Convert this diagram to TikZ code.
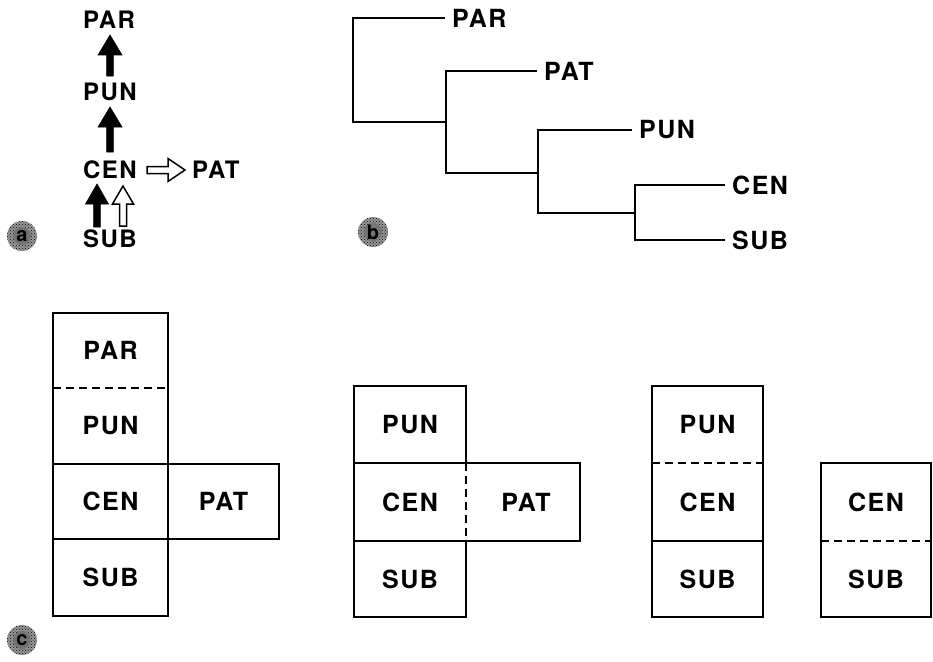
\documentclass[tikz,border=0pt]{standalone}
\usepackage{fontspec}
\setmainfont{TeX Gyre Heros}[LetterSpace=6]
\usetikzlibrary{calc,patterns}
\newcommand{\blkuparrow}[5]{% style, bottom, tip, head length, head half width
  \draw[#1] ($(#2)+(-3.3,0)$) -- ($(#3)+(-3.3,#4)$) -- ($(#3)+(-#5,#4)$) -- (#3)
    -- ($(#3)+(#5,#4)$) -- ($(#3)+(3.3,#4)$) -- ($(#2)+(3.3,0)$) -- cycle;}
\newcommand{\tagdisc}[3]{% position, name, letter
  \fill[black!40] (#1) circle (15);
  \fill[pattern=crosshatch dots,pattern color=black] (#1) circle (15);
  \fill[black!55] (#1) circle (9);
  \node[font=\fontsize{20}{20}\selectfont\bfseries,inner sep=0pt] (#2) at (#1) {#3};}
\begin{document}
\begin{tikzpicture}[x=1pt,y=-1pt,
  lbl/.style={inner sep=0pt,font=\fontsize{25}{25}\selectfont\bfseries},
  lbla/.style={inner sep=0pt,font=\fontsize{24}{24}\selectfont\bfseries},
  tree/.style={line width=2.6pt},
  box/.style={line width=1.7pt},
  dsh/.style={line width=1.6pt,dash pattern=on 8pt off 5pt},
  solidarr/.style={fill=black,draw=black,line width=0.6pt,line join=miter},
  hollowarr/.style={fill=white,draw=black,line width=1.5pt,line join=miter}]
\useasboundingbox (0,0) rectangle (933,661);

% ---------- panel a ----------
\node[lbla] (apar) at (109,20) {PAR};
\node[lbla] (apun) at (110,92) {PUN};
\node[lbla] (acen) at (110,170) {CEN};
\node[lbla] (asub) at (110,239) {SUB};
\node[lbla,anchor=west] (apat) at (192,170) {PAT};

\coordinate (a1b) at (110,76);  \coordinate (a1t) at (110,35);
\coordinate (a2b) at (110,152); \coordinate (a2t) at (110,107);
\coordinate (a3b) at (97,227);  \coordinate (a3t) at (97,184);
\coordinate (a4b) at (123,226); \coordinate (a4t) at (123,186);
\blkuparrow{solidarr}{a1b}{a1t}{20}{12}
\blkuparrow{solidarr}{a2b}{a2t}{20}{12}
\blkuparrow{solidarr}{a3b}{a3t}{20}{11.5}
\draw[hollowarr] ($(a4b)+(-3.5,0)$) -- ($(a4t)+(-3.5,18)$) -- ($(a4t)+(-10.5,18)$) -- (a4t)
  -- ($(a4t)+(10.5,18)$) -- ($(a4t)+(3.5,18)$) -- ($(a4b)+(3.5,0)$) -- cycle;
\coordinate (hs) at (147,170); \coordinate (he) at (185,170);
\draw[hollowarr] ($(hs)+(0,-3.5)$) -- ($(he)+(-17,-3.5)$) -- ($(he)+(-17,-11.5)$) -- (he)
  -- ($(he)+(-17,11.5)$) -- ($(he)+(-17,3.5)$) -- ($(hs)+(0,3.5)$) -- cycle;

\tagdisc{22,236}{taga}{a}

% ---------- panel b ----------
\node[lbl,anchor=west,inner xsep=7pt] (bpar) at (445,18) {PAR};
\node[lbl,anchor=west,inner xsep=7pt] (bpat) at (537,71) {PAT};
\node[lbl,anchor=west,inner xsep=7pt] (bpun) at (632,130) {PUN};
\node[lbl,anchor=west,inner xsep=7pt] (bcen) at (725,185) {CEN};
\node[lbl,anchor=west,inner xsep=7pt] (bsub) at (725,240) {SUB};
\coordinate (j1) at (353,122); \coordinate (k1) at (446,122);
\coordinate (j2) at (446,173); \coordinate (k2) at (538,173);
\coordinate (j3) at (538,213); \coordinate (k3) at (635,213);
\coordinate (j4) at (635,240);
\draw[tree] (bpar.west) -| (j1) -- (k1);
\draw[tree] (bpat.west) -| (j2) -- (k2);
\draw[tree] (bpun.west) -| (j3) -- (k3);
\draw[tree] (bcen.west) -| (j4) -- (bsub.west);

\tagdisc{373,232}{tagb}{b}

% ---------- panel c ----------
% group 1
\draw[box] (53,313) rectangle (168,616);
\draw[box] (53,464) -| (279,539) -- (53,539);
\draw[dsh] (53,388) -- (168,388);
\node[lbl] (c1par) at (110.5,350.5) {PAR};
\node[lbl] (c1pun) at (110.5,426) {PUN};
\node[lbl] (c1cen) at (110.5,501.5) {CEN};
\node[lbl] (c1pat) at (223.5,501.5) {PAT};
\node[lbl] (c1sub) at (110.5,577.5) {SUB};

% group 2
\draw[box] (466,463) -- (466,386) -- (354,386) -- (354,617) -- (466,617) -- (466,541);
\draw[box] (354,463) -| (580,541) -- (354,541);
\draw[dsh] (466,463) -- (466,541);
\node[lbl] (c2pun) at (410,424.5) {PUN};
\node[lbl] (c2cen) at (410,502) {CEN};
\node[lbl] (c2pat) at (526,502) {PAT};
\node[lbl] (c2sub) at (410,579) {SUB};

% group 3
\draw[box] (652,386) rectangle (763,617);
\draw[dsh] (652,463) -- (763,463);
\draw[box] (652,541) -- (763,541);
\node[lbl] (c3pun) at (707.5,424.5) {PUN};
\node[lbl] (c3cen) at (707.5,502) {CEN};
\node[lbl] (c3sub) at (707.5,579) {SUB};

% group 4
\draw[box] (821,463) rectangle (931,617);
\draw[dsh] (821,541) -- (931,541);
\node[lbl] (c4cen) at (876,502) {CEN};
\node[lbl] (c4sub) at (876,579) {SUB};

\tagdisc{22,640}{tagc}{c}
\end{tikzpicture}
\end{document}
